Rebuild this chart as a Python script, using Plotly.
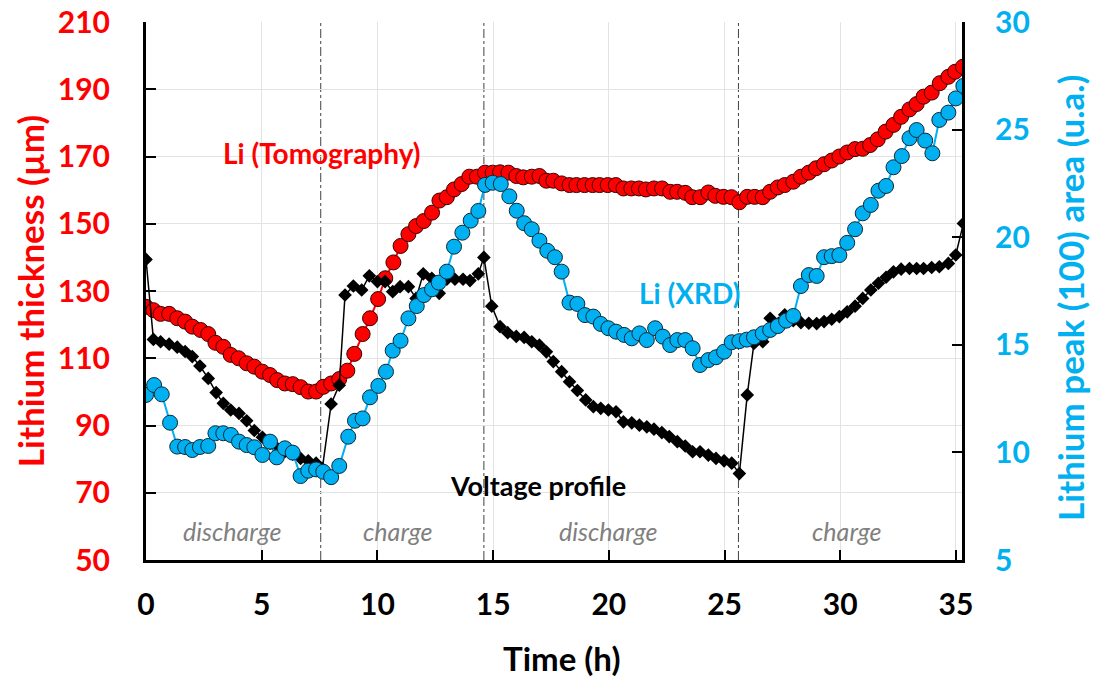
import plotly.graph_objects as go

# ---------------- data ----------------
t_tomo = [0.0, 0.32, 0.63, 1.0, 1.35, 1.69, 2.0, 2.36, 2.69, 3.0,
          3.34, 3.66, 4.0, 4.35, 4.68, 5.03, 5.36, 5.67, 6.0, 6.34,
          6.68, 7.01, 7.35, 7.66, 8.0, 8.35, 8.7, 9.0, 9.36, 9.68,
          10.03, 10.34, 10.69, 11.0, 11.34, 11.67, 12.0, 12.36, 12.68, 13.0,
          13.31, 13.64, 13.97, 14.3, 14.65, 14.98, 15.3, 15.66, 16.0, 16.3,
          16.67, 17.0, 17.3, 17.6, 17.96, 18.3, 18.6, 18.95, 19.3, 19.6,
          19.95, 20.3, 20.63, 20.97, 21.3, 21.6, 21.95, 22.3, 22.65, 22.95,
          23.3, 23.6, 23.95, 24.3, 24.6, 24.95, 25.3, 25.64, 25.98, 26.3,
          26.65, 26.97, 27.3, 27.6, 27.97, 28.3, 28.64, 28.95, 29.3, 29.63,
          29.96, 30.3, 30.64, 30.97, 31.29, 31.62, 31.96, 32.3, 32.63, 32.99,
          33.3, 33.6, 33.95, 34.3, 34.67, 34.96, 35.3]
li_tomo = [125.3, 124.3, 123.2, 123.2, 121.9, 120.9, 119.4, 118.4, 117.2, 114.6,
           113.4, 111.0, 110.0, 108.5, 107.5, 106.0, 105.0, 103.5, 102.5, 102.3,
           101.4, 100.1, 100.1, 101.5, 102.5, 103.8, 106.3, 111.3, 117.2, 121.9,
           127.6, 133.8, 138.5, 143.4, 146.9, 149.3, 150.8, 153.3, 156.9, 157.9,
           160.2, 161.8, 164.0, 164.0, 165.2, 165.2, 165.3, 165.2, 164.2, 163.8,
           164.0, 164.2, 162.8, 162.8, 162.0, 161.5, 161.5, 161.5, 161.5, 161.5,
           161.5, 161.5, 160.5, 160.5, 160.5, 160.2, 160.5, 160.5, 159.5, 159.5,
           159.2, 157.9, 157.9, 159.3, 158.3, 158.0, 157.9, 156.4, 158.0, 158.0,
           157.9, 159.5, 160.8, 161.5, 162.5, 164.0, 165.2, 166.5, 167.7, 168.8,
           170.0, 171.2, 172.2, 172.3, 173.4, 175.1, 177.4, 179.4, 181.8, 184.0,
           185.6, 187.8, 189.0, 191.8, 193.7, 195.2, 196.7]

t_xrd = [0.0, 0.35, 0.68, 1.04, 1.35, 1.69, 2.0, 2.33, 2.69, 3.0,
         3.34, 3.67, 4.02, 4.35, 4.68, 5.03, 5.36, 5.65, 6.0, 6.34,
         6.68, 7.01, 7.35, 7.66, 8.0, 8.35, 8.74, 9.03, 9.36, 9.68,
         10.04, 10.37, 10.66, 11.0, 11.34, 11.7, 12.01, 12.36, 12.65, 13.0,
         13.31, 13.67, 14.03, 14.36, 14.65, 14.98, 15.33, 15.7, 16.02, 16.34,
         16.67, 17.0, 17.34, 17.67, 17.96, 18.3, 18.64, 18.97, 19.33, 19.65,
         19.98, 20.31, 20.66, 20.99, 21.32, 21.64, 22.0, 22.33, 22.65, 22.96,
         23.3, 23.62, 23.94, 24.3, 24.63, 24.98, 25.31, 25.64, 25.96, 26.27,
         26.65, 26.97, 27.3, 27.66, 27.97, 28.3, 28.64, 28.98, 29.3, 29.63,
         29.96, 30.3, 30.64, 30.97, 31.32, 31.65, 31.98, 32.3, 32.66, 32.99,
         33.3, 33.67, 33.98, 34.28, 34.67, 34.99, 35.32]
li_xrd = [12.67, 13.13, 12.7, 11.38, 10.27, 10.25, 10.11, 10.25, 10.3, 10.89,
          10.89, 10.81, 10.5, 10.34, 10.24, 9.88, 10.5, 9.77, 10.19, 9.99,
          8.9, 9.15, 9.21, 9.1, 8.85, 9.37, 10.73, 11.47, 11.58, 12.56,
          13.09, 13.75, 14.73, 15.19, 16.23, 16.8, 17.31, 17.58, 17.89, 18.4,
          19.56, 20.21, 20.77, 21.22, 22.43, 22.53, 22.47, 21.9, 21.23, 20.65,
          20.37, 19.84, 19.37, 19.07, 18.4, 16.96, 16.9, 16.38, 16.31, 15.97,
          15.77, 15.61, 15.46, 15.3, 15.53, 15.22, 15.77, 15.38, 14.99, 15.22,
          15.22, 14.84, 14.06, 14.29, 14.42, 14.68, 15.12, 15.17, 15.24, 15.35,
          15.53, 15.69, 15.87, 16.12, 16.34, 17.73, 18.24, 18.2, 19.07, 19.12,
          19.17, 19.74, 20.37, 21.11, 21.5, 22.16, 22.38, 23.25, 23.77, 24.6,
          24.98, 24.49, 23.9, 25.45, 25.79, 26.45, 27.03]

t_volt = [0.0, 0.32, 0.63, 1.0, 1.35, 1.69, 2.0, 2.33, 2.69, 3.03,
          3.34, 3.66, 4.02, 4.35, 4.68, 5.03, 5.36, 5.67, 6.0, 6.34,
          6.68, 7.01, 7.35, 7.62, 8.0, 8.35, 8.6, 8.96, 9.32, 9.65,
          10.0, 10.33, 10.66, 10.98, 11.34, 11.67, 11.98, 12.35, 12.67, 13.0,
          13.35, 13.7, 14.0, 14.36, 14.6, 14.94, 15.3, 15.63, 16.0, 16.34,
          16.67, 17.0, 17.3, 17.6, 17.96, 18.3, 18.64, 19.0, 19.33, 19.65,
          19.98, 20.31, 20.63, 20.99, 21.32, 21.64, 21.95, 22.29, 22.61, 22.96,
          23.3, 23.62, 23.94, 24.3, 24.63, 24.98, 25.31, 25.64, 25.98, 26.27,
          26.65, 26.97, 27.33, 27.6, 27.97, 28.3, 28.64, 28.98, 29.3, 29.63,
          29.96, 30.3, 30.64, 30.97, 31.32, 31.65, 31.98, 32.3, 32.63, 32.99,
          33.3, 33.6, 33.95, 34.28, 34.67, 34.99, 35.32]
voltage = [139.4, 115.6, 114.9, 114.2, 113.3, 112.0, 110.5, 107.7, 104.0, 99.8,
           96.6, 94.6, 93.6, 91.4, 88.5, 86.5, 84.7, 83.2, 82.2, 81.5,
           80.2, 79.5, 78.8, 77.2, 96.4, 102.0, 128.8, 131.5, 130.3, 134.5,
           132.8, 132.8, 129.8, 131.3, 131.3, 127.8, 135.1, 133.8, 129.3, 133.5,
           133.5, 133.5, 133.1, 135.1, 140.0, 125.5, 119.4, 117.6, 116.5, 116.2,
           114.9, 113.9, 111.9, 109.0, 106.0, 103.0, 100.4, 97.6, 95.6, 95.1,
           94.6, 94.1, 91.1, 90.8, 90.1, 89.6, 88.9, 87.9, 86.7, 85.2,
           83.9, 82.2, 82.2, 81.2, 80.2, 79.5, 78.8, 75.7, 99.1, 114.4,
           114.9, 121.9, 120.4, 122.9, 121.2, 120.6, 120.4, 120.3, 120.9, 121.6,
           122.4, 123.8, 125.5, 127.8, 130.3, 132.3, 134.1, 135.7, 136.5, 136.7,
           136.7, 136.7, 137.0, 137.2, 138.2, 140.7, 150.1]

phase_bounds = [7.55, 14.6, 25.6]
phase_labels = ["discharge", "charge", "discharge", "charge"]
phase_centers = [3.75, 10.9, 20.0, 30.3]

x_ticks = [0, 5, 10, 15, 20, 25, 30, 35]
y_ticks = [50, 70, 90, 110, 130, 150, 170, 190, 210]
y2_ticks = [5, 10, 15, 20, 25, 30]

RED = "#FF0000"
BLUE = "#00B0F0"
FONT = "Lato"

fig = go.Figure()

fig.add_trace(go.Scatter(
    x=t_tomo, y=li_tomo, mode="lines+markers", name="Li (Tomography)",
    line=dict(color=RED, width=2),
    marker=dict(symbol="circle", size=15, color=RED,
                line=dict(color="#3a0000", width=1)),
))
fig.add_trace(go.Scatter(
    x=t_volt, y=voltage, mode="lines+markers", name="Voltage profile",
    line=dict(color="black", width=1.5),
    marker=dict(symbol="diamond", size=10.5, color="black"),
))
fig.add_trace(go.Scatter(
    x=t_xrd, y=li_xrd, mode="lines+markers", name="Li (XRD)", yaxis="y2",
    line=dict(color=BLUE, width=2),
    marker=dict(symbol="circle", size=15, color=BLUE,
                line=dict(color="#0a2a3a", width=1)),
))

shapes = []
for xb in phase_bounds:
    shapes.append(dict(type="line", xref="x", yref="paper", x0=xb, x1=xb,
                       y0=0, y1=1, line=dict(color="#404040", width=1, dash="dashdot"),
                       layer="below"))

annotations = [
    dict(text="Li (Tomography)", x=7.6, y=171, xref="x", yref="y", showarrow=False,
         font=dict(family=FONT, size=28, color=RED, weight="bold")),
    dict(text="Li (XRD)", x=23.5, y=129.4, xref="x", yref="y", showarrow=False,
         font=dict(family=FONT, size=28, color=BLUE, weight="bold")),
    dict(text="Voltage profile", x=16.95, y=72.3, xref="x", yref="y", showarrow=False,
         font=dict(family=FONT, size=27, color="black", weight="bold")),
    dict(text="Lithium thickness (µm)", x=-0.142, y=0.5, xref="paper", yref="paper",
         textangle=-90, showarrow=False, xanchor="center", yanchor="middle",
         font=dict(family=FONT, size=35, color=RED, weight="bold")),
    dict(text="Lithium peak (100) area (u.a.)", x=1.1324, y=0.487, xref="paper", yref="paper",
         textangle=-90, showarrow=False, xanchor="center", yanchor="middle",
         font=dict(family=FONT, size=35, color=BLUE, weight="bold")),
    dict(text="Time (h)", x=0.509, y=-0.182, xref="paper", yref="paper",
         showarrow=False, yanchor="middle",
         font=dict(family=FONT, size=33, color="black", weight="bold")),
]
for lab, xc in zip(phase_labels, phase_centers):
    annotations.append(dict(text="<i>" + lab + "</i>", x=xc, y=58.6, xref="x", yref="y",
                            showarrow=False,
                            font=dict(family=FONT, size=25, color="#808080")))

fig.update_layout(
    width=1093, height=682,
    margin=dict(l=146, r=131, t=22, b=122),
    paper_bgcolor="white", plot_bgcolor="white",
    showlegend=False,
    shapes=shapes, annotations=annotations,
    xaxis=dict(range=[0, 35.26], tickvals=x_ticks, showgrid=True, gridcolor="#E3E3E3",
               gridwidth=1, zeroline=False, showline=True, linecolor="black", linewidth=3,
               ticks="inside", ticklen=10, tickwidth=2, tickcolor="black",
               ticklabelstandoff=16, automargin=False,
               tickfont=dict(family=FONT, size=30, color="black", weight="bold")),
    yaxis=dict(range=[50, 210], tickvals=y_ticks, showgrid=True, gridcolor="#E3E3E3",
               gridwidth=1, zeroline=False, showline=True, linecolor="black", linewidth=3,
               ticks="inside", ticklen=10, tickwidth=2, tickcolor="black",
               ticklabelstandoff=27, automargin=False,
               tickfont=dict(family=FONT, size=30, color=RED, weight="bold")),
    yaxis2=dict(range=[5, 30], tickvals=y2_ticks, overlaying="y", side="right",
                showgrid=False, zeroline=False, showline=True, linecolor="black", linewidth=3,
                ticks="inside", ticklen=10, tickwidth=2, tickcolor="black",
                ticklabelstandoff=24, automargin=False,
                tickfont=dict(family=FONT, size=30, color=BLUE, weight="bold")),
)

fig.write_html("out.html")
